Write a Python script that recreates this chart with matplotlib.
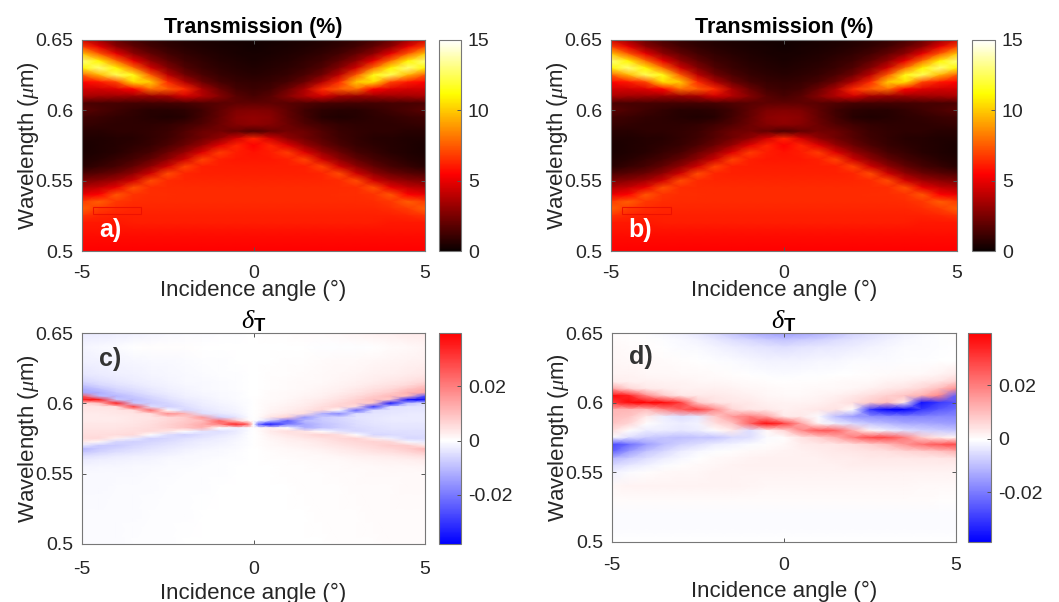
import numpy as np
import matplotlib
matplotlib.use("Agg")
import matplotlib.pyplot as plt
from matplotlib.colors import LinearSegmentedColormap
from matplotlib.patches import Rectangle

plt.rcParams['font.family'] = ['Liberation Sans', 'DejaVu Sans']
plt.rcParams['axes.unicode_minus'] = False
plt.rcParams['mathtext.fontset'] = 'custom'
plt.rcParams['mathtext.rm'] = 'Liberation Sans'
plt.rcParams['mathtext.it'] = 'Liberation Serif:italic'
plt.rcParams['mathtext.bf'] = 'Liberation Sans:bold'

W, H = 1059, 602
GREY = '#262626'

# transmission (%), left half, columns are angle_T, rows are wl_T
angle_T = [-5, -4.5, -4, -3.5, -3, -2.5, -2, -1.5, -1, -0.5, 0]
wl_T = [0.65, 0.645, 0.64, 0.635, 0.63, 0.625, 0.62, 0.615, 0.61, 0.605, 0.60,
        0.595, 0.59, 0.585, 0.58, 0.575, 0.57, 0.565, 0.56, 0.555, 0.55,
        0.545, 0.54, 0.535, 0.53, 0.525, 0.52, 0.515, 0.51, 0.505, 0.50]
T_left = [
    [4.5, 3.2, 2, 1.3, .9, .7, .5, .4, .3, .2, .2],
    [7, 5, 3, 2, 1.3, .9, .7, .5, .4, .3, .2],
    [10, 7.5, 5, 3, 2, 1.3, .9, .7, .5, .4, .3],
    [13, 11, 8, 5, 3, 1.9, 1.2, .9, .6, .5, .4],
    [11, 13, 11, 8, 4.5, 2.7, 1.6, 1.1, .8, .6, .5],
    [7.5, 9.5, 12.5, 11.5, 7.5, 4, 2.3, 1.5, 1, .8, .7],
    [5.5, 6, 7, 10.5, 10, 6.5, 3.8, 2.2, 1.4, 1, .9],
    [4.5, 4.5, 4.8, 5.5, 8, 7.5, 6.5, 3.6, 2.2, 1.3, 1.1],
    [3.6, 3.4, 3.3, 3.2, 3.2, 3.5, 4.5, 3.8, 2.8, 1.8, 1.4],
    [1.5, 1.4, 1.4, 1.3, 1.3, 1.3, 1.4, 1.6, 1.8, 1.9, 1.9],
    [1.8, 1.5, 1.2, .9, .7, .7, .8, 1.2, 1.9, 2.6, 2.7],
    [1.2, 1.1, .9, .8, .6, .5, .7, 1.3, 2, 2.9, 3.1],
    [1.0, .9, .8, .8, .8, .9, 1.2, 1.6, 2.2, 2.8, 3],
    [.7, .7, .8, .8, .9, 1.1, 1.6, 2.2, 2.4, 2, 1.5],
    [.5, .5, .6, .7, .9, 1.2, 1.7, 2.3, 3.0, 4.5, 6.3],
    [.4, .5, .6, .8, 1.0, 1.5, 2.2, 3.2, 4.8, 6.3, 5.5],
    [.4, .5, .7, 1, 1.4, 2.2, 3.2, 4.8, 6.8, 6.1, 5.9],
    [.5, .7, 1, 1.4, 2, 3, 4.4, 7, 6.2, 6.0, 6.0],
    [.7, 1, 1.4, 2, 3, 4.4, 7, 6.2, 6.1, 6.1, 6.1],
    [1.5, 1.8, 2.2, 3, 4.4, 7.2, 6.3, 6.2, 6.2, 6.2, 6.2],
    [2.6, 2.9, 3.4, 4.5, 7.2, 6.4, 6.3, 6.3, 6.3, 6.3, 6.3],
    [3.8, 4.2, 5, 7.3, 6.5, 6.4, 6.4, 6.4, 6.4, 6.4, 6.4],
    [5, 5.5, 7.4, 6.6, 6.5, 6.5, 6.4, 6.4, 6.4, 6.4, 6.4],
    [6.8, 7.6, 6.7, 6.5, 6.4, 6.4, 6.4, 6.4, 6.4, 6.4, 6.4],
    [7.6, 6.8, 6.5, 6.3, 6.3, 6.3, 6.3, 6.3, 6.3, 6.3, 6.3],
    [6.6, 6.3, 6.2, 6.2, 6.2, 6.2, 6.2, 6.2, 6.2, 6.2, 6.2],
    [6.0, 6.0, 6.0, 6.1, 6.1, 6.1, 6.1, 6.1, 6.1, 6.1, 6.1],
    [5.9, 5.9, 5.9, 5.9, 5.9, 5.9, 5.9, 5.9, 5.9, 5.9, 5.9],
    [5.7, 5.7, 5.7, 5.7, 5.7, 5.7, 5.7, 5.7, 5.7, 5.7, 5.7],
    [5.6, 5.6, 5.6, 5.6, 5.6, 5.6, 5.6, 5.6, 5.6, 5.6, 5.6],
    [5.5, 5.5, 5.5, 5.5, 5.5, 5.5, 5.5, 5.5, 5.5, 5.5, 5.5],
]

# delta_T panel c (x 1e-3), left half; right half has opposite sign
angle_c = [-5, -4.5, -4, -3.5, -3, -2.5, -2, -1.5, -1, -0.5, -0.15, 0]
wl_c = [0.65, 0.64, 0.63, 0.62, 0.615, 0.6125, 0.61, 0.6075, 0.605, 0.6025, 0.60,
        0.5975, 0.595, 0.5925, 0.59, 0.5875, 0.585, 0.5825, 0.58, 0.5775, 0.575,
        0.5725, 0.57, 0.5675, 0.565, 0.5625, 0.56, 0.555, 0.55, 0.54, 0.52, 0.50]
delta_c_left = [
    [-3, -3, -2.5, -2, -1.5, -1, -.5, -.5, -.3, -.2, 0, 0],
    [-1.5, -1, -.5, 0, .3, .3, .2, .1, 0, 0, 0, 0],
    [-2, -1.8, -1.5, -1.2, -1, -.8, -.5, -.4, -.3, -.1, 0, 0],
    [-3.5, -3, -2.5, -2, -1.5, -1.2, -.8, -.6, -.4, -.2, 0, 0],
    [-6, -4.5, -3.5, -2.8, -2, -1.5, -1, -.8, -.5, -.3, 0, 0],
    [-9, -6, -4.5, -3.5, -2.5, -1.8, -1.2, -.9, -.6, -.3, 0, 0],
    [-12, -9, -6, -4.5, -3.2, -2.2, -1.5, -1, -.7, -.4, 0, 0],
    [-13, -12, -8, -6, -4, -2.8, -1.8, -1.2, -.8, -.5, 0, 0],
    [26, -10, -11, -8, -5.5, -3.5, -2.2, -1.5, -1, -.6, 0, 0],
    [36, 36, -8, -10, -7, -4.5, -3, -2, -1.2, -.7, -.2, 0],
    [5, 10, 36, -8, -8, -6, -4, -2.5, -1.5, -.9, -.2, 0],
    [4, 4, 5, 30, -5, -7, -5, -3, -2, -1.2, -.3, 0],
    [3.5, 3.5, 4, 5, 24, 0, -6, -4, -2.5, -1.5, -.3, 0],
    [3, 3, 3.5, 4, 5, 18, 12, -5, -3.5, -2, -.4, 0],
    [3, 3, 3, 3.5, 4, 6, 8, 16, -7, -4, -.5, 0],
    [3, 3, 3, 3.5, 4.5, 6, 8, 10, 24, 8, 1, 0],
    [3.5, 3.5, 3.5, 4, 5, 7, 9, 13, 20, 36, 24, 0],
    [4, 4, 4, 4.5, 5.5, 7, 9, 12, 0, -2, -.5, 0],
    [4.5, 4.5, 4.5, 5, 6, 4, 0, -4, -5, -3, -.5, 0],
    [5, 5, 5.5, 6, 0, -5, -7, -5, -3.5, -2, -.4, 0],
    [5.5, 6, 2, -3, -7, -6, -4.5, -3.5, -2.5, -1.5, -.3, 0],
    [3, 1, -6, -7, -6, -5, -3.5, -2.5, -2, -1, -.2, 0],
    [-3, -8, -8, -6, -5, -4, -3, -2, -1.5, -.8, -.2, 0],
    [-11, -8, -6, -5, -4, -3, -2, -1.5, -1, -.5, -.1, 0],
    [-8, -6, -4.5, -4, -3, -2.5, -1.5, -1, -.8, -.4, 0, 0],
    [-5, -4, -3, -2.5, -2, -1.5, -1, -.8, -.5, -.3, 0, 0],
    [-3, -2.5, -2, -1.8, -1.5, -1, -.8, -.5, -.4, -.2, 0, 0],
    [-1.5, -1.3, -1.2, -1, -.8, -.6, -.5, -.4, -.3, -.1, 0, 0],
    [-1, -1, -.9, -.8, -.6, -.5, -.4, -.3, -.2, -.1, 0, 0],
    [-.8, -.8, -.7, -.6, -.5, -.4, -.3, -.2, -.1, -.1, 0, 0],
    [-.7, -.7, -.6, -.5, -.4, -.3, -.2, -.1, -.1, 0, 0, 0],
    [-.7, -.6, -.5, -.4, -.3, -.2, -.1, -.1, 0, 0, 0, 0],
]

# delta_T panel d (x 1e-3), all columns
angle_d = [-5, -4.5, -4, -3.5, -3, -2.5, -2, -1.5, -1, -0.5, 0,
           0.5, 1, 1.5, 2, 2.5, 3, 3.5, 4, 4.5, 5]
wl_d = [0.65, 0.645, 0.64, 0.63, 0.62, 0.615, 0.61, 0.605, 0.60, 0.595, 0.59, 0.585,
        0.58, 0.575, 0.57, 0.565, 0.56, 0.555, 0.55, 0.54, 0.53, 0.52, 0.51, 0.50]
delta_d = [
    [0, 0, -.5, -1.5, -2.5, -4, -6, -9, -12, -14, -15, -14, -12, -10, -7, -5, -4, -2.5, -1.5, -.5, 0],
    [.3, 0, 0, -.5, -1.2, -2, -3.5, -5, -6.5, -8, -9, -8, -7, -5.5, -4.5, -3.5, -2.5, -1.5, -1, -.5, 0],
    [.5, .3, 0, -.3, -.8, -1.2, -2, -3, -4, -4.5, -5, -4.5, -4, -3.5, -3, -2.2, -1.5, -1, -.8, -.5, -.3],
    [1, .8, .5, .3, 0, -.3, -.6, -1, -1.5, -2, -2, -2, -1.5, -1.5, -1, -1, -.8, -.5, -.5, -.3, -.3],
    [1.5, 1.5, 1, 1, .8, .5, .3, 0, -.3, -.5, -.8, -.5, -.5, -.3, -.2, 0, .2, .5, .8, 1.5, 3],
    [2.5, 2, 2, 1.5, 1.5, 1, 1, .5, .3, 0, -.3, 0, 0, .2, .5, .8, 1.5, 2, 3, 4, 7],
    [14, 6, 3, 2.5, 2, 2, 2, 1.5, 1, .5, .3, .3, .5, .8, 1, 2, 3, 4, 6, 10, 17],
    [38, 34, 18, 8, 3.5, 3, 3, 2.5, 2, 1, .5, .8, 1.2, 2, 3, 5, 7, 9, 12, 18, -24],
    [30, 38, 39, 38, 30, 8, 4, 3.5, 3, 2, 1.5, 1.5, 2, 3, 5, 8, 10, 3, -36, -30, -26],
    [11, 11, 10, 18, 25, 30, 18, 6, 3.5, 3, 2, 2.5, 3.5, 4, 0, -30, -38, -38, -30, -25, -22],
    [10, 9, 3, -3, -5, -4, 8, 16, 20, 14, 3, 3, -1, -10, -15, -17, -18, -19, -19, -18, -18],
    [9, 6, 0, -2, -3, -2, 5, 9, 24, 38, 30, 14, 1, -3, -6, -9, -11, -13, -13, -14, -15],
    [5, 0, -3, -3, -4, -3, 0, 3, -5, 1, 6, 18, 26, 24, 12, 1, -3, -5, -7, -8, -9],
    [0, -5, -8, -9, -10, -9, -9, -6, -5, -1, 0, 4, 7, 12, 20, 28, 28, 20, 8, 3, 1],
    [-28, -22, -15, -10, -7, -5, -3, -2, -.8, 0, .5, 2.5, 3, 3.5, 5, 7, 10, 16, 22, 26, 28],
    [-24, -15, -9, -6, -3, -1.5, -.5, 0, .5, 1, 1.5, 2, 2.5, 3, 3.5, 4, 4.5, 6, 7, 9, 12],
    [-11, -8, -5, -3, -1.5, -.3, .5, 1, 1.5, 2, 2, 2, 2, 2.5, 2.5, 3, 3, 3, 3.5, 3.5, 4],
    [-6, -4, -2.5, -1, 0, .5, 1, 1.5, 2, 2, 2, 2, 2, 2, 2.5, 2.5, 2.5, 2.5, 2.5, 2.5, 2.5],
    [-2.5, -1, 0, .5, 1, 1, 1.5, 1.5, 1.5, 1.5, 1.5, 1.5, 1.5, 1.5, 1.5, 1.5, 1.5, 1.5, 1.5, 1.5, 1.5],
    [1, 1.5, 1.5, 1.5, 1.5, 1.5, 1.5, 1.5, 1.2, 1, 1, 1, 1, 1, 1, 1, 1, 1, .8, .8, .8],
    [.3, .3, .3, .3, .3, .3, .3, .3, .3, .3, .3, .3, .3, .3, .3, .3, .3, .3, .3, 0, 0],
    [-1, -1, -1, -1, -1, -1, -1, -1, -1, -1, -1, -1, -1, -1, -1, -1, -1, -1, -1, -1, -1],
    [-1, -1, -1, -1, -1, -1, -1, -1, -1, -1, -1, -1, -1, -1, -1, -1, -1, -1, -1, -1, -1],
    [-.3, -.3, -.3, -.3, -.3, -.3, -.3, -.3, -.3, -.3, -.3, -.3, -.3, -.3, -.3, -.3, -.3, -.3, -.3, -.3, -.3],
]

x_ticks = [-5, 0, 5]
y_ticks = [0.5, 0.55, 0.6, 0.65]
y_ticklabels = ['0.5', '0.55', '0.6', '0.65']

# mirror the half maps
T_left = np.array(T_left)
T_full = np.hstack([T_left, T_left[:, -2::-1]])
angle_T_full = np.r_[angle_T, -np.array(angle_T)[-2::-1]]
c_left = np.array(delta_c_left) * 1e-3
delta_c = np.hstack([c_left, -c_left[:, -2::-1]])
angle_c_full = np.r_[angle_c, -np.array(angle_c)[-2::-1]]
delta_d = np.array(delta_d) * 1e-3

bwr = LinearSegmentedColormap.from_list(
    'bwr2', [(0, '#0000ff'), (0.49, '#ffffff'), (1, '#ff0000')], N=256)


def box(x0, y0, x1, y1):
    return fig.add_axes([x0 / W, 1 - y1 / H, (x1 - x0) / W, (y1 - y0) / H])


def panel(rect, cbar_rect, x, y, z, cmap, vmin, vmax, cticks, cticklabels, title, title_size,
          xlabel_y, xpad, title_pad):
    ax = box(*rect)
    m = ax.pcolormesh(x, y, z, cmap=cmap, vmin=vmin, vmax=vmax, shading='gouraud', rasterized=True)
    ax.set_xlim(-5, 5)
    ax.set_ylim(0.5, 0.65)
    ax.set_xticks(x_ticks)
    ax.set_yticks(y_ticks, y_ticklabels)
    ax.tick_params(direction='in', length=3, width=0.7, top=True, right=True,
                   labelsize=14, colors=GREY, color='#555555', pad=6)
    ax.tick_params(axis='x', pad=xpad)
    ax.set_ylabel(r'Wavelength ($\mu$m)', fontsize=16, color=GREY, labelpad=-4)
    ax.set_xlabel('Incidence angle (°)', fontsize=16, color=GREY)
    ax.xaxis.set_label_coords(0.5, xlabel_y)
    ax.set_title(title, fontsize=title_size, fontweight='bold', color='black', pad=title_pad)
    for s in ax.spines.values():
        s.set_color('#777777')
        s.set_linewidth(0.8)
    cax = box(*cbar_rect)
    cb = fig.colorbar(m, cax=cax)
    cb.set_ticks(cticks, labels=cticklabels)
    cb.ax.tick_params(direction='in', length=3, width=0.7, labelsize=14,
                      labelcolor=GREY, color='#555555', pad=5)
    cb.outline.set_edgecolor('#777777')
    cb.outline.set_linewidth(0.8)
    return ax


fig = plt.figure(figsize=(W / 100, H / 100), dpi=100, facecolor='white')

t_ticks = [0, 5, 10, 15]
t_labels = ['0', '5', '10', '15']
d_ticks = [-0.02, 0, 0.02]
d_labels = ['-0.02', '0', '0.02']
d_title = r'$\delta_{\mathbf{T}}$'

ax_a = panel((82, 40, 425, 251), (439, 40, 461, 251), angle_T_full, wl_T, T_full, 'hot',
             0, 15, t_ticks, t_labels, 'Transmission (%)', 15.5, -0.135, 10, 5)
ax_b = panel((611, 40, 957, 251), (972, 40, 995, 251), angle_T_full, wl_T, T_full, 'hot',
             0, 15, t_ticks, t_labels, 'Transmission (%)', 15.5, -0.135, 10, 5)
ax_c = panel((82, 333, 425, 544), (439, 333, 461, 544), angle_c_full, wl_c, delta_c, bwr,
             -0.038, 0.0395, d_ticks, d_labels, d_title, 19, -0.185, 12, 3)
ax_d = panel((612, 333, 956, 542), (968, 333, 991, 542), angle_d, wl_d, delta_d, bwr,
             -0.0385, 0.0395, d_ticks, d_labels, d_title, 19, -0.185, 11, 3)

for ax in (ax_a, ax_b):
    ax.add_patch(Rectangle((-4.68, 0.526), 1.4, 0.005, fill=False, ec='#ee1100', lw=0.8))

for ax, lab, col, ly in [(ax_a, 'a)', 'white', 0.1), (ax_b, 'b)', 'white', 0.1),
                         (ax_c, 'c)', '#333333', 0.875), (ax_d, 'd)', '#333333', 0.885)]:
    ax.text(0.05, ly, lab, transform=ax.transAxes, color=col, fontsize=18,
            fontweight='bold', ha='left', va='center')

fig.savefig('out.png', dpi=100)
